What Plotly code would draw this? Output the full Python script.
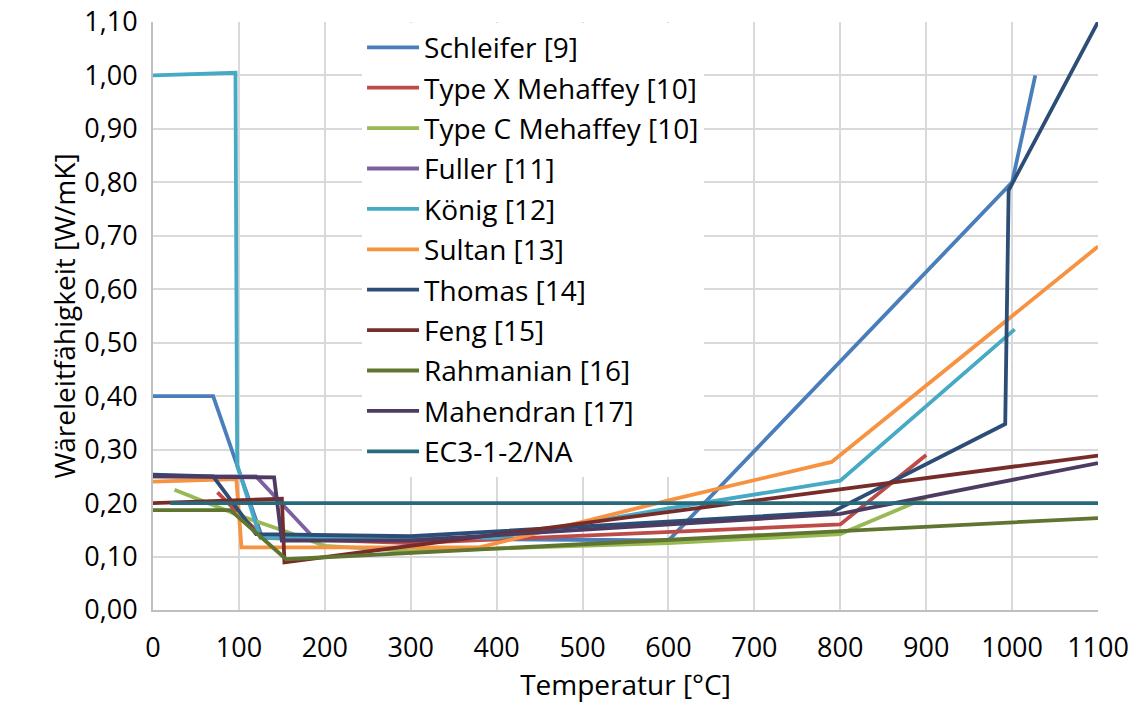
import plotly.graph_objects as go

# ---- data (temperature °C, conductivity W/mK) ----
names = ["Schleifer [9]", "Type X Mehaffey [10]", "Type C Mehaffey [10]", "Fuller [11]",
         "König [12]", "Sultan [13]", "Thomas [14]", "Feng [15]", "Rahmanian [16]",
         "Mahendran [17]", "EC3-1-2/NA"]

schleifer_t = [0, 70, 127, 600, 1000, 1027]
schleifer_k = [0.40, 0.40, 0.136, 0.13, 0.80, 1.00]

typex_t = [75, 100, 130, 300, 800, 900]
typex_k = [0.22, 0.18, 0.135, 0.125, 0.16, 0.29]

typec_t = [25, 100, 158, 200, 300, 600, 800, 900]
typec_k = [0.225, 0.177, 0.145, 0.12, 0.11, 0.125, 0.142, 0.21]

fuller_t = [0, 120, 190]
fuller_k = [0.25, 0.25, 0.13]

koenig_t = [0, 96, 98, 125, 400, 600, 800, 1003]
koenig_k = [1.00, 1.005, 0.27, 0.135, 0.135, 0.19, 0.242, 0.525]

sultan_t = [0, 97, 103, 380, 600, 790, 1100]
sultan_k = [0.24, 0.245, 0.117, 0.117, 0.205, 0.277, 0.68]

thomas_t = [0, 70, 120, 300, 790, 992, 996, 1100]
thomas_k = [0.253, 0.25, 0.142, 0.138, 0.183, 0.348, 0.785, 1.10]

feng_t = [0, 150, 153, 1100]
feng_k = [0.20, 0.208, 0.089, 0.289]

rahmanian_t = [0, 90, 155, 1100]
rahmanian_k = [0.187, 0.187, 0.095, 0.172]

mahendran_t = [0, 141, 150, 300, 800, 1100]
mahendran_k = [0.25, 0.248, 0.13, 0.13, 0.18, 0.275]

ec3_t = [20, 1100]
ec3_k = [0.20, 0.20]

colors = ["#4a7ebb", "#be4b48", "#98b954", "#7d60a0", "#46aac5", "#f69240",
          "#2c4d75", "#772c2a", "#5f7530", "#4d3b62", "#276a7c"]

series = [(schleifer_t, schleifer_k), (typex_t, typex_k), (typec_t, typec_k),
          (fuller_t, fuller_k), (koenig_t, koenig_k), (sultan_t, sultan_k),
          (thomas_t, thomas_k), (feng_t, feng_k), (rahmanian_t, rahmanian_k),
          (mahendran_t, mahendran_k), (ec3_t, ec3_k)]

FONT = "Open Sans"
FS = 28

fig = go.Figure()
for i, (name, (t, k)) in enumerate(zip(names, series)):
    fig.add_trace(go.Scatter(x=t, y=k, mode="lines", name=name,
                             legendgroup=f"g{i}",
                             line=dict(color=colors[i], width=3.8)))

fig.update_layout(
    width=1137, height=704,
    margin=dict(l=153, r=39, t=22, b=94, autoexpand=False),
    paper_bgcolor="white", plot_bgcolor="white",
    separators=",.",
    font=dict(family=FONT, size=FS, color="#000000"),
    showlegend=True,
    legend=dict(x=0.2212, y=0.999, xanchor="left", yanchor="top",
                bgcolor="white", borderwidth=0, tracegroupgap=1,
                font=dict(family=FONT, size=FS, color="#000000"),
                itemwidth=52),
    xaxis=dict(range=[0, 1100], dtick=100, tick0=0, tickformat="d",
               showgrid=True, gridcolor="#d9d9d9", gridwidth=1.5,
               showline=True, linecolor="#bfbfbf", linewidth=2,
               zeroline=False, ticks="", ticklen=0, automargin=False,
               ticklabelstandoff=13,
               tickfont=dict(family=FONT, size=27),
               title=dict(text="Temperatur [°C]", standoff=4,
                          font=dict(family=FONT, size=FS))),
    yaxis=dict(range=[0, 1.1], dtick=0.1, tick0=0, tickformat=".2f",
               showgrid=True, gridcolor="#d9d9d9", gridwidth=1.5,
               showline=True, linecolor="#bfbfbf", linewidth=2,
               zeroline=False, ticks="", ticklen=0, automargin=False,
               ticklabelstandoff=8,
               tickfont=dict(family=FONT, size=27),
               title=dict(text="Wäreleitfähigkeit [W/mK]", standoff=0,
                          font=dict(family=FONT, size=FS))),
)

fig.write_html("out.html")
